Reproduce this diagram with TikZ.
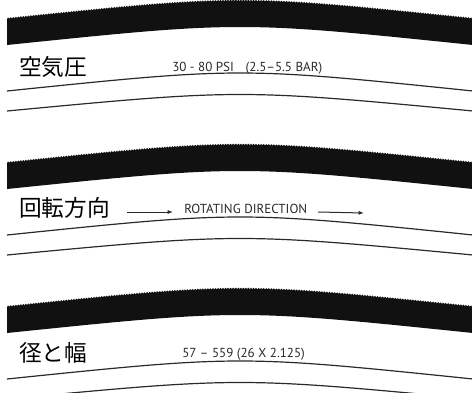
\documentclass[tikz,border=0pt]{standalone}
\usepackage{fontspec}
\setmainfont{PT Sans}
\newfontfamily\jpfont{Noto Sans CJK JP}
\usetikzlibrary{decorations.pathmorphing,arrows.meta}
\definecolor{bandcol}{HTML}{111111}
\definecolor{linecol}{HTML}{2A2A2A}
\definecolor{txtcol}{HTML}{2A2A2A}
\tikzset{
  band/.style={fill=bandcol},
  thinarc/.style={draw=linecol,line width=0.9pt},
  jplabel/.style={anchor=west,inner sep=0pt,font=\jpfont\fontsize{17}{20}\selectfont,text=black},
  spec/.style={anchor=west,inner sep=0pt,font=\fontsize{9.8}{12}\selectfont,text=txtcol},
  arr/.style={draw=linecol,line width=0.75pt,-{Latex[length=4pt,width=3pt]}},
  tread/.style={decoration={bumps,segment length=3.8pt,amplitude=1pt}}
}
\newcommand{\tyrepanel}[1]{%
  \begin{scope}[yshift=#1]
    \fill[band] decorate[tread]{(7,19) .. controls (240,-5) .. (473,19)} -- (473,45) .. controls (240,21) .. (7,45) -- cycle;
    \draw[thinarc] (7,91) .. controls (240,67) .. (473,91);
    \draw[thinarc] (7,111) .. controls (240,89) .. (473,111);
  \end{scope}}
\begin{document}
\begin{tikzpicture}[x=0.75pt,y=-0.75pt]
\useasboundingbox (0,0) rectangle (472,393);
\clip (0,0) rectangle (472,393);
\fill[white] (0,0) rectangle (472,393);
\tyrepanel{0}
\tyrepanel{-108pt}
\tyrepanel{-216pt}
% panel 1
\node[jplabel] (l1) at (19,67) {空気圧};
\node[spec] (s1) at (172,68) {30 - 80 PSI\hspace{0.9em}(2.5–5.5 BAR)};
% panel 2
\node[jplabel] (l2) at (19,208) {回転方向};
\coordinate (a1s) at (127,212);
\coordinate (a1e) at (173,212);
\node[spec] (s2) at (184,209) {ROTATING DIRECTION};
\coordinate (a2s) at (318,212);
\coordinate (a2e) at (364,213);
\draw[arr] (a1s) -- (a1e);
\draw[arr] (a2s) -- (a2e);
% panel 3
\node[jplabel] (l3) at (19,353) {径と幅};
\node[spec] (s3) at (182,354) {57 – 559 (26 X 2.125)};
\end{tikzpicture}
\end{document}
